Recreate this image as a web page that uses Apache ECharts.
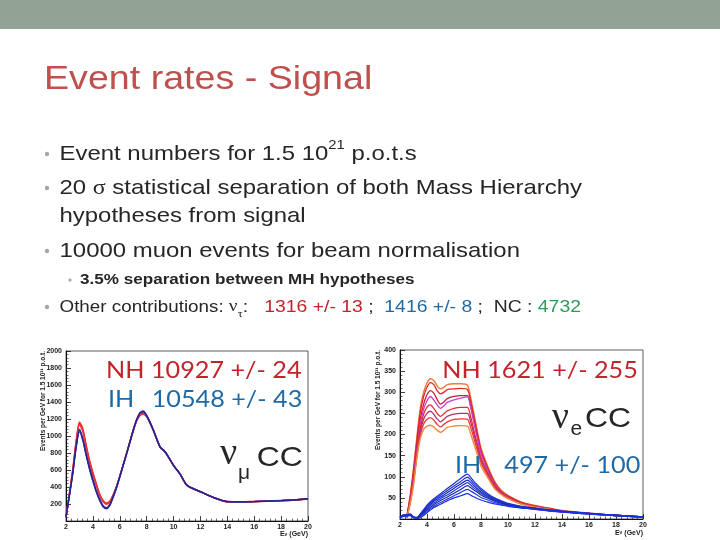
<!DOCTYPE html>
<html>
<head>
<meta charset="utf-8">
<script src="https://cdn.jsdelivr.net/npm/echarts@6/dist/echarts.min.js"></script>
<style>
html,body{margin:0;padding:0;background:#fff;}
#c{width:720px;height:540px;}
</style>
</head>
<body>
<div id="c"></div>
<script>
// ---------- nu_mu CC (left plot) ----------
const energyMu = [2,2.25,2.5,2.75,3,3.25,3.5,3.75,4,4.25,4.5,4.75,5,5.25,5.5,5.75,6,6.5,7,7.25,7.5,7.75,8,8.25,8.5,9,9.25,9.5,10,10.5,11,12,13,14,15,16,17,18,19,20];
const numuNH_a = [45,310,590,920,1150,1070,880,700,560,430,310,235,205,225,300,400,525,790,1060,1180,1245,1262,1230,1155,1065,868,833,783,654,549,419,344,274,227,225,228,234,239,247,261];
const numuNH_b = [44,305,580,905,1135,1055,865,688,548,420,302,228,198,218,294,396,522,788,1058,1177,1240,1255,1225,1152,1063,866,831,781,652,547,417,342,272,226,224,227,233,238,246,260];
const numuNH_c = [46,315,600,935,1165,1085,895,715,572,442,320,243,212,232,306,405,528,792,1062,1182,1248,1265,1232,1157,1067,869,834,784,655,550,420,345,275,228,226,229,235,240,248,262];
const numuIH_a = [45,300,560,870,1070,960,780,620,480,350,250,175,150,185,280,390,520,790,1070,1190,1270,1290,1240,1160,1070,870,835,785,655,550,420,345,275,228,226,229,235,240,248,262];
const numuIH_b = [40,290,545,850,1050,945,765,605,465,340,240,168,142,178,272,383,515,785,1065,1185,1265,1282,1235,1155,1065,865,832,782,652,548,418,343,273,226,224,228,233,239,247,260];
const numuIH_c = [48,305,570,880,1080,975,795,635,495,362,262,185,158,192,288,398,526,795,1075,1195,1275,1295,1245,1165,1075,875,838,788,658,553,423,347,277,230,227,231,236,242,250,264];

// ---------- nu_e CC (right plot) ----------
const energyE = [2,2.25,2.5,2.75,3,3.25,3.5,3.75,4,4.25,4.5,4.75,5,5.25,5.5,6,6.5,7,7.25,7.5,7.75,8,8.5,9,9.5,10,11,12,13,14,15,16,17,18,19,20];
const nueNH_1 = [null,null,5,55,120,195,262,300,322,332,328,315,308,312,318,320,320,316,285,245,205,168,125,90,68,56,40,32,26,20,17,14,11,9,7,5];
const nueNH_2 = [null,null,5,52,114,186,252,290,312,323,318,304,296,300,306,308,309,306,277,238,200,163,121,87,66,54,39,31,25,19,16,13,11,9,7,5];
const nueNH_3 = [null,null,4,48,106,172,236,272,294,304,298,283,272,277,285,290,292,292,265,228,192,157,117,85,64,53,38,30,25,19,16,13,10,8,6,5];
const nueNH_4 = [null,null,4,45,100,162,224,260,280,290,282,270,262,268,276,282,286,289,262,225,189,155,115,83,63,52,37,30,24,19,16,13,10,8,6,5];
const nueNH_5 = [null,null,4,43,96,156,214,248,265,270,262,250,243,249,256,262,264,264,240,207,175,145,109,80,61,51,37,29,24,18,15,13,10,8,6,4];
const nueNH_6 = [null,null,4,40,90,150,205,236,250,255,248,237,230,236,243,248,250,250,228,198,168,139,106,78,60,50,36,29,24,18,15,12,10,8,6,4];
const nueNH_7 = [null,null,3,37,85,148,198,225,236,240,234,224,218,224,230,236,237,236,215,188,160,133,102,75,59,49,36,28,23,18,15,12,10,8,6,4];
const nueNH_8 = [null,null,3,35,80,145,190,212,220,222,218,210,205,210,217,220,221,220,200,175,150,125,98,72,58,48,35,28,23,18,15,12,10,8,6,4];
const nueIH_1 = [4,10,10,12,5,3,12,22,33,41,48,54,60,66,72,84,96,106,98,88,80,72,60,50,43,37,30,26,22,19,16,14,11,9,7,5];
const nueIH_2 = [4,9,9,11,5,3,11,20,30,38,45,51,56,62,67,78,89,99,92,83,76,68,57,48,41,36,29,25,21,18,16,13,11,9,7,5];
const nueIH_3 = [3,9,9,11,4,2,10,18,27,35,42,47,52,57,62,73,83,92,86,78,71,64,54,46,40,35,29,25,21,18,15,13,11,9,7,5];
const nueIH_4 = [3,8,8,10,4,2,9,16,24,32,38,43,48,53,57,67,77,86,80,73,67,61,52,44,39,34,28,24,20,17,15,13,10,8,6,5];
const nueIH_5 = [3,8,8,10,4,2,7,14,21,28,34,39,44,48,52,61,70,79,74,68,63,57,49,42,37,33,27,24,20,17,14,12,10,8,6,5];
const nueIH_6 = [2,7,7,9,3,1,5,11,18,24,30,35,39,43,47,55,63,70,66,61,56,51,45,39,35,31,26,23,19,16,14,12,10,8,6,5];
const nueIH_7 = [2,6,7,8,3,1,3,8,15,21,27,31,35,39,43,50,55,60,56,52,48,45,40,36,33,30,26,23,20,17,14,12,10,8,6,5];

// axis ranges / ticks
const muAxisX = {min:2, max:20, interval:2};
const muAxisY = {min:0, max:2000, interval:200};
const eAxisX = {min:2, max:20, interval:2};
const eAxisY = {min:0, max:400, interval:50};

const chart = echarts.init(document.getElementById('c'), null, {renderer:'canvas'});

function line(xs, ys, color, idx, w) {
  return {
    type:'line', xAxisIndex:idx, yAxisIndex:idx,
    data: xs.map((x,i)=>[x, ys[i]]),
    showSymbol:false, symbol:'none', smooth:0.25, connectNulls:false,
    lineStyle:{color:color, width:w}, silent:true, animation:false
  };
}

function xAx(idx, r) {
  return {
    gridIndex:idx, type:'value', min:r.min, max:r.max, interval:r.interval,
    axisLine:{show:true, onZero:false, lineStyle:{color:'#111', width:1}},
    axisTick:{show:true, inside:true, length:5, lineStyle:{color:'#111', width:0.8}},
    minorTick:{show:true, splitNumber:5, length:2.5, lineStyle:{color:'#111', width:0.6}},
    splitLine:{show:false},
    axisLabel:{fontSize:7, fontWeight:'bold', color:'#222', margin:3, fontFamily:'Liberation Sans',
      formatter: v => String(v)}
  };
}
function yAx(idx, r) {
  return {
    gridIndex:idx, type:'value', min:r.min, max:r.max, interval:r.interval,
    axisLine:{show:true, onZero:false, lineStyle:{color:'#111', width:1}},
    axisTick:{show:true, inside:true, length:5, lineStyle:{color:'#111', width:0.8}},
    minorTick:{show:true, splitNumber:5, length:2.5, lineStyle:{color:'#111', width:0.6}},
    splitLine:{show:false},
    axisLabel:{fontSize:7, fontWeight:'bold', color:'#222', margin:4, showMinLabel:false, fontFamily:'Liberation Sans',
      formatter: v => String(v)}
  };
}

const SX = 1.14; // horizontal stretch of the slide
const bodyFont = 'Liberation Sans';
const dark = '#262626';
const redT = '#c3232b', blueT = '#1f6aa5', greenT = '#2f9a5c';

function txt(x, y, text, size, fill, opts) {
  opts = opts || {};
  return {
    type:'text', x:x, y:y, scaleX: opts.sx === undefined ? SX : opts.sx, rotation: opts.rot || 0, z:100,
    style:{
      text:text, fontSize:size, fontFamily: opts.family || bodyFont, fontWeight: opts.weight || 'normal',
      fill:fill, align: opts.align || 'left', verticalAlign: opts.va || 'middle',
      rich: opts.rich
    }
  };
}
function dot(x, y, r) {
  return {type:'circle', z:100, shape:{cx:x, cy:y, r:r}, style:{fill:'#a6a6a6'}};
}

const graphics = [
  {type:'rect', z:90, shape:{x:0, y:0, width:720, height:29}, style:{fill:'#92a295'}},
  txt(44, 79.5, 'Event rates - Signal', 33, '#c0504d'),
  dot(47, 154, 2.2),
  txt(59.5, 154, '{t|Event numbers for 1.5 10}{sup|21}{t| p.o.t.s}', 21, dark, {rich:{
    t:{fontSize:21, fontFamily:bodyFont, fill:dark, lineHeight:30},
    sup:{fontSize:13, fontFamily:bodyFont, fill:dark, lineHeight:14, verticalAlign:'top'}}}),
  dot(47, 188, 2.2),
  txt(59.5, 188, '{t|20 }{s|σ}{t| statistical separation of both Mass Hierarchy}', 21, dark, {rich:{
    t:{fontSize:21, fontFamily:bodyFont, fill:dark},
    s:{fontSize:21, fontFamily:'Liberation Serif', fill:dark}}}),
  txt(59.5, 216, 'hypotheses from signal', 21, dark),
  dot(47, 251, 2.2),
  txt(59.5, 251, '10000 muon events for beam normalisation', 21, dark),
  dot(70, 280, 1.6),
  txt(80, 280, '3.5% separation between MH hypotheses', 15, dark, {weight:'bold'}),
  dot(47, 307, 2.2),
  txt(59.5, 307, '{o|Other contributions: }{n|ν}{sb|τ}{t|:   }{r|1316 +/- 13}{t| ;  }{b|1416 +/- 8}{t| ;  NC : }{g|4732}', 17, dark, {rich:{
    o:{fontSize:16.5, fontFamily:bodyFont, fill:dark, lineHeight:26},
    t:{fontSize:17, fontFamily:bodyFont, fill:dark, lineHeight:26},
    n:{fontSize:17, fontFamily:'Liberation Serif', fill:dark, lineHeight:26},
    sb:{fontSize:11, fontFamily:'Liberation Serif', fill:dark, lineHeight:12, verticalAlign:'bottom'},
    r:{fontSize:17, fontFamily:bodyFont, fill:redT, lineHeight:26},
    b:{fontSize:17, fontFamily:bodyFont, fill:blueT, lineHeight:26},
    g:{fontSize:17, fontFamily:bodyFont, fill:greenT, lineHeight:26}}}),

  // left plot annotations
  txt(106, 370.5, 'NH 10927 +/- 24', 24, redT, {family:'Lato', sx:1.05}),
  txt(108, 399, 'IH', 24, blueT, {family:'Lato', sx:1.05}),
  txt(151.7, 399, '10548 +/- 43', 24, blueT, {family:'Lato', sx:1.05}),
  txt(220, 454, 'ν', 38, dark, {family:'Liberation Serif', sx:1.0}),
  txt(238, 473, 'μ', 20, dark, {sx:1.05}),
  txt(256.7, 458.5, 'CC', 28, dark),

  // right plot annotations
  txt(442.3, 370, 'NH 1621 +/- 255', 24, redT, {family:'Lato', sx:1.05}),
  txt(551.7, 418, 'ν', 38, dark, {family:'Liberation Serif', sx:1.0}),
  txt(570.5, 429, 'e', 20, dark, {sx:1.05}),
  txt(585, 419.5, 'CC', 28, dark),
  txt(455, 465.5, 'IH', 24, blueT, {family:'Lato', sx:1.05}),
  txt(504.3, 465.5, '497 +/- 100', 24, blueT, {family:'Lato', sx:1.05}),

  // axis titles
  txt(43.5, 351, 'Events per GeV for 1.5 10²¹ p.o.t.', 6.5, '#222', {rot:Math.PI/2, align:'right', sx:1, weight:'bold'}),
  txt(378.5, 350, 'Events per GeV for 1.5 10²¹ p.o.t.', 6.5, '#222', {rot:Math.PI/2, align:'right', sx:1, weight:'bold'}),
  txt(308, 534.5, '{a|E}{s|ν}{a| (GeV)}', 7, '#222', {align:'right', sx:1, rich:{
    a:{fontSize:7, fontWeight:'bold', fontFamily:bodyFont, fill:'#222'},
    s:{fontSize:5, fontWeight:'bold', fontFamily:bodyFont, fill:'#222'}}}),
  txt(643, 533, '{a|E}{s|ν}{a| (GeV)}', 7, '#222', {align:'right', sx:1, rich:{
    a:{fontSize:7, fontWeight:'bold', fontFamily:bodyFont, fill:'#222'},
    s:{fontSize:5, fontWeight:'bold', fontFamily:bodyFont, fill:'#222'}}})
];

const series = [
  line(energyMu, numuNH_c, '#f04848', 0, 1.5),
  line(energyMu, numuNH_a, '#e02020', 0, 1.5),
  line(energyMu, numuNH_b, '#e83a3a', 0, 1.5),
  line(energyMu, numuIH_c, '#6a2ea0', 0, 1.3),
  line(energyMu, numuIH_b, '#3040c0', 0, 1.3),
  line(energyMu, numuIH_a, '#23238a', 0, 1.3),

  line(energyE, nueNH_1, '#f07a3a', 1, 1.4),
  line(energyE, nueNH_2, '#e02828', 1, 1.3),
  line(energyE, nueNH_3, '#c01f3a', 1, 1.3),
  line(energyE, nueNH_4, '#cc3cd4', 1, 1.3),
  line(energyE, nueNH_5, '#e03030', 1, 1.3),
  line(energyE, nueNH_6, '#b8306e', 1, 1.3),
  line(energyE, nueNH_7, '#e83a30', 1, 1.3),
  line(energyE, nueNH_8, '#f08a40', 1, 1.4),
  line(energyE, nueIH_1, '#1a30e0', 1, 1.2),
  line(energyE, nueIH_2, '#2030c8', 1, 1.2),
  line(energyE, nueIH_3, '#1828b0', 1, 1.2),
  line(energyE, nueIH_4, '#2038e8', 1, 1.2),
  line(energyE, nueIH_5, '#1a2898', 1, 1.2),
  line(energyE, nueIH_6, '#2a3ad8', 1, 1.2),
  line(energyE, nueIH_7, '#1a30e0', 1, 1.2)
];

chart.setOption({
  animation:false,
  backgroundColor:'#ffffff',
  grid:[
    {left:66, top:351, width:242, height:170, show:true, borderColor:'#333', borderWidth:0.8, backgroundColor:'#fff'},
    {left:400, top:350, width:243, height:169, show:true, borderColor:'#333', borderWidth:0.8, backgroundColor:'#fff'}
  ],
  xAxis:[xAx(0, muAxisX), xAx(1, eAxisX)],
  yAxis:[yAx(0, muAxisY), yAx(1, eAxisY)],
  series: series,
  graphic: graphics
});
</script>
</body>
</html>
